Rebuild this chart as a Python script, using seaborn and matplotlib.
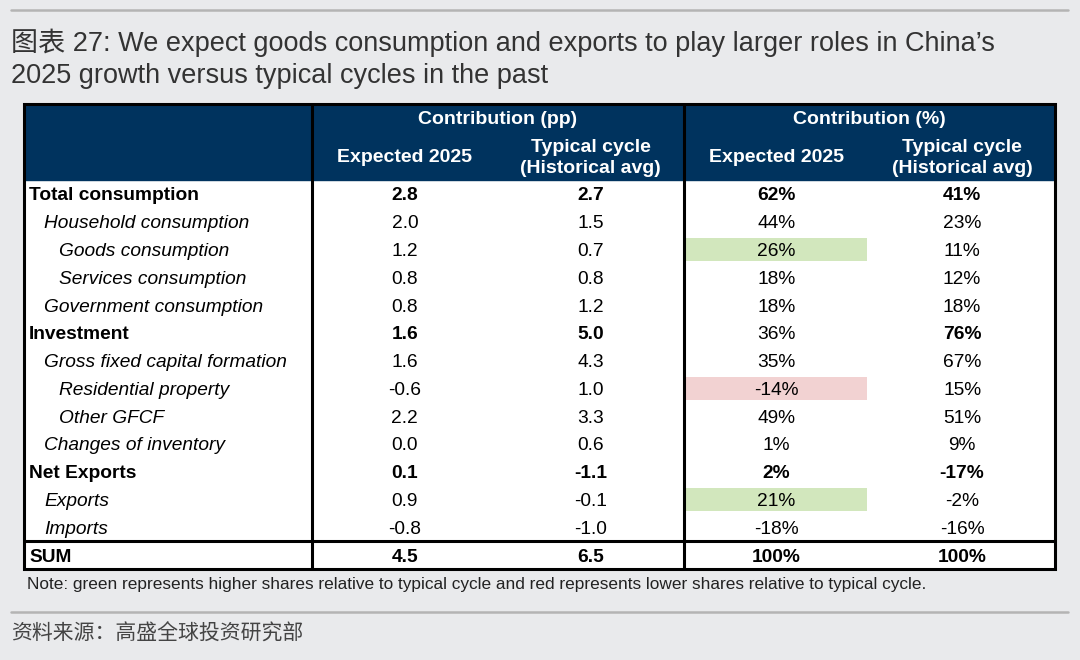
import numpy as np
import seaborn as sns
import matplotlib.pyplot as plt
from matplotlib.colors import ListedColormap
from matplotlib.patches import Rectangle

# table content
row_labels = ["Total consumption", "Household consumption", "Goods consumption",
              "Services consumption", "Government consumption", "Investment",
              "Gross fixed capital formation", "Residential property", "Other GFCF",
              "Changes of inventory", "Net Exports", "Exports", "Imports", "SUM"]
row_levels = [0, 1, 2, 2, 1, 0, 1, 2, 2, 1, 0, 1, 1, 0]
expected_pp = [2.8, 2.0, 1.2, 0.8, 0.8, 1.6, 1.6, -0.6, 2.2, 0.0, 0.1, 0.9, -0.8, 4.5]
typical_pp = [2.7, 1.5, 0.7, 0.8, 1.2, 5.0, 4.3, 1.0, 3.3, 0.6, -1.1, -0.1, -1.0, 6.5]
expected_pct = [62, 44, 26, 18, 18, 36, 35, -14, 49, 1, 2, 21, -18, 100]
typical_pct = [41, 23, 11, 12, 18, 76, 67, 15, 51, 9, -17, -2, -16, 100]
# 1 = green (higher share), -1 = red (lower share), only on Expected 2025 (%)
expected_pct_flag = [0, 0, 1, 0, 0, 0, 0, -1, 0, 0, 0, 1, 0, 0]
bold_pct = [[True, True], [False, False], [False, False], [False, False], [False, False],
            [False, True], [False, False], [False, False], [False, False], [False, False],
            [True, True], [False, False], [False, False], [True, True]]

group_titles = ["Contribution (pp)", "Contribution (%)"]
col_titles = ["Expected 2025", "Typical cycle\n(Historical avg)",
              "Expected 2025", "Typical cycle\n(Historical avg)"]

title = "图表 27: We expect goods consumption and exports to play larger roles in China’s\n2025 growth versus typical cycles in the past"
note = ("Note: green represents higher shares relative to typical cycle and red represents "
        "lower shares relative to typical cycle.")
source = "资料来源：高盛全球投资研究部"

sns.set_theme(style="white")
plt.rcParams['font.family'] = ['Liberation Sans', 'Noto Sans CJK SC', 'DejaVu Sans']

W, H = 1080, 660
BG = "#e9eaec"
NAVY = "#00335e"
fig = plt.figure(figsize=(W / 100, H / 100), dpi=100, facecolor=BG)

# layout in pixels
tab_l, tab_r, tab_t, head_b, tab_b = 24, 1055, 104, 180, 569
col_l = 312
n_rows = len(row_labels)
row_h = (tab_b - head_b) / n_rows
col_w = (tab_r - col_l) / 4
body_fs = 13.8
head_fs = 14

# cell backgrounds via heatmap
flags = np.zeros((n_rows, 4))
flags[:, 2] = expected_pct_flag
hax = fig.add_axes([col_l / W, 1 - tab_b / H, (tab_r - col_l) / W, (tab_b - head_b) / H])
sns.heatmap(flags, ax=hax, cmap=ListedColormap(["#f2d2d2", "white", "#d2e7bd"]),
            vmin=-1.5, vmax=1.5, cbar=False, linewidths=1.5, linecolor="white",
            xticklabels=False, yticklabels=False)
hax.set_axis_off()

ax = fig.add_axes([0, 0, 1, 1], facecolor="none")
ax.set_xlim(0, W)
ax.set_ylim(H, 0)
ax.set_axis_off()

# label column background
ax.add_patch(Rectangle((tab_l, head_b), col_l - tab_l, tab_b - head_b, color="white", zorder=0))
# header
ax.add_patch(Rectangle((tab_l, tab_t), tab_r - tab_l, head_b - tab_t, color=NAVY, zorder=1))

# title, note, source
ax.plot([11, 1068], [10, 10], color="#b4b4b4", lw=1.8)
ax.text(11, 43, title.split("\n")[0], ha="left", va="center", fontsize=19.5, color="#333333")
ax.text(11, 76, title.split("\n")[1], ha="left", va="center", fontsize=19.5, color="#333333")
ax.text(27, 585, note, ha="left", va="center", fontsize=12.4, color="#222222")
ax.plot([11, 1068], [612, 612], color="#b4b4b4", lw=1.8)
ax.text(11, 634, source, ha="left", va="center", fontsize=15, color="#444444")

# header text
for g, gt in enumerate(group_titles):
    cx = col_l + col_w * (2 * g + 1)
    ax.text(cx, 120, gt, ha="center", va="center", fontsize=head_fs, fontweight="bold", color="white")
for j, ct in enumerate(col_titles):
    cx = col_l + col_w * (j + 0.5)
    ax.text(cx, 158, ct, ha="center", va="center", fontsize=head_fs, fontweight="bold",
            color="white", linespacing=1.3)

# body text
for i, lab in enumerate(row_labels):
    cy = head_b + row_h * (i + 0.5) + 2
    lvl = row_levels[i]
    ax.text(29 + 15 * lvl, cy, lab, ha="left", va="center", fontsize=body_fs,
            fontweight="bold" if lvl == 0 else "normal",
            fontstyle="normal" if lvl == 0 else "italic", color="black")
    cells = [f"{expected_pp[i]:.1f}", f"{typical_pp[i]:.1f}",
             f"{expected_pct[i]}%", f"{typical_pct[i]}%"]
    bolds = [lvl == 0, lvl == 0, bold_pct[i][0], bold_pct[i][1]]
    for j, txt in enumerate(cells):
        ax.text(col_l + col_w * (j + 0.5), cy, txt, ha="center", va="center", fontsize=body_fs,
                fontweight="bold" if bolds[j] else "normal", color="black")

# borders
lw = 2.2
ax.add_patch(Rectangle((tab_l, tab_t), tab_r - tab_l, tab_b - tab_t, fill=False,
                       edgecolor="black", lw=lw, zorder=5))
for x in [col_l, col_l + 2 * col_w]:
    ax.plot([x, x], [tab_t, tab_b], color="black", lw=lw, zorder=5)
sum_top = head_b + row_h * (n_rows - 1)
ax.plot([tab_l, tab_r], [sum_top, sum_top], color="black", lw=lw, zorder=5)

fig.savefig("out.png", dpi=100, facecolor=BG)
